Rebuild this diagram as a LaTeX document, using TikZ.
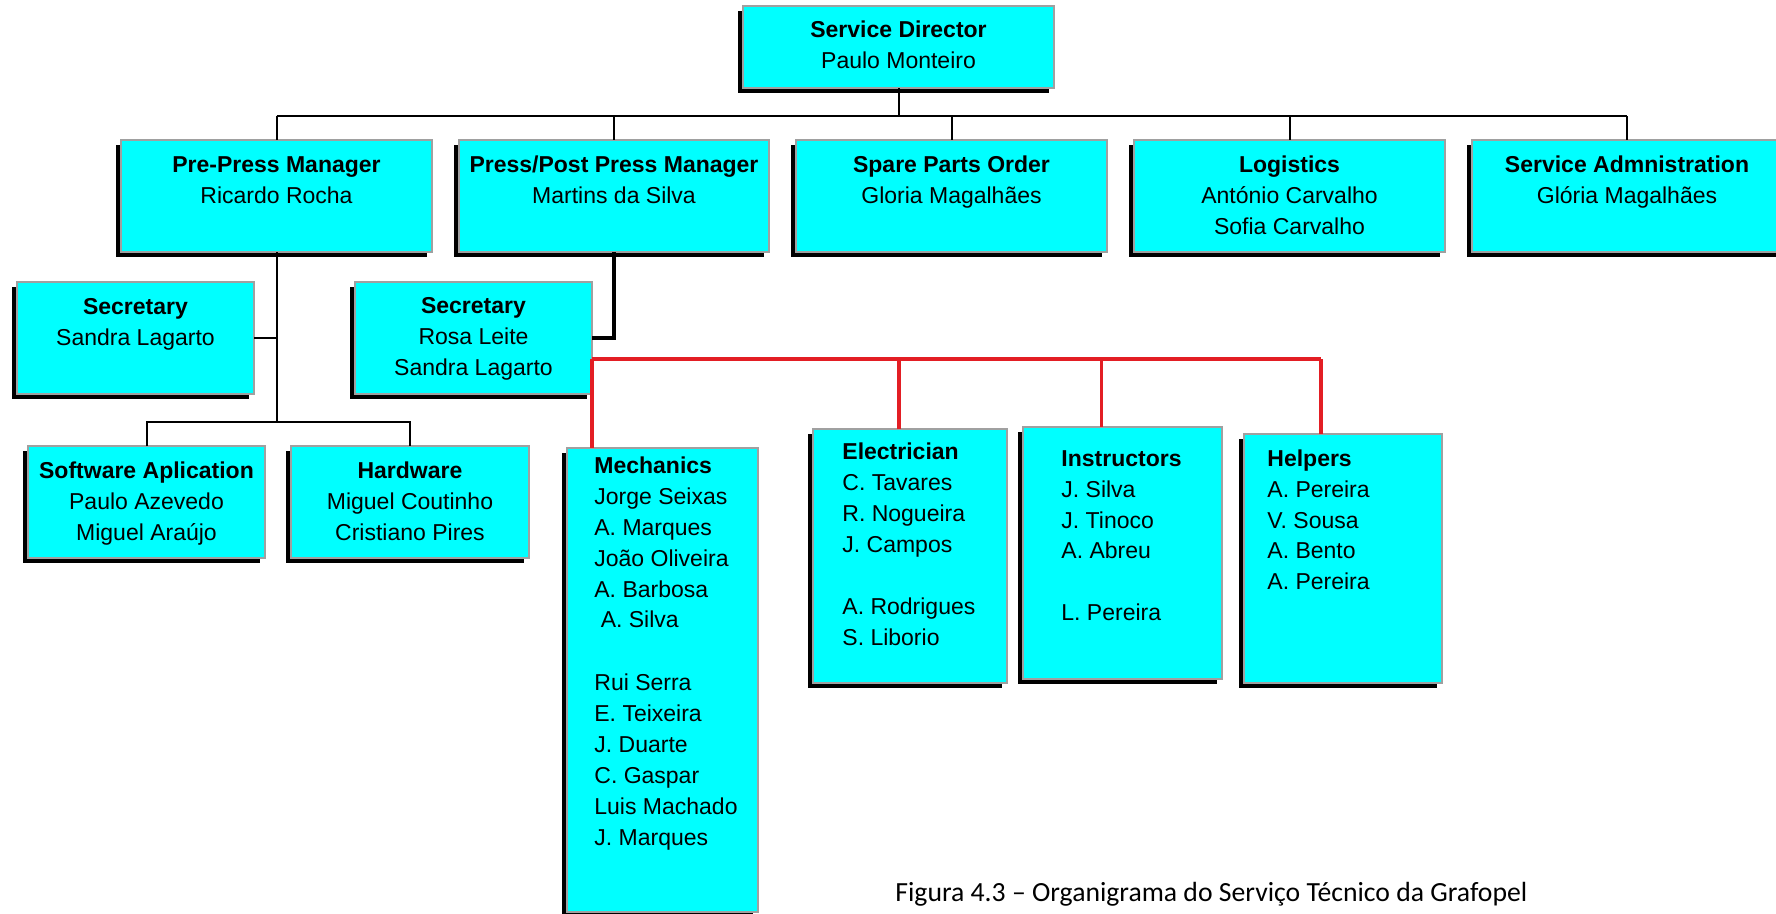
\documentclass[tikz,border=0pt]{standalone}
\usepackage{fontspec}
\setmainfont{Liberation Sans}
\newfontfamily\capfont{Carlito}
\usetikzlibrary{fit,shadows}
\definecolor{boxcyan}{RGB}{0,255,255}
\definecolor{boxgray}{RGB}{160,160,160}
\definecolor{linered}{RGB}{227,30,36}
\newcommand\ctab[1]{\begin{tabular}[t]{@{}c@{}}#1\end{tabular}}
\newcommand\ltab[1]{\begin{tabular}[t]{@{}l@{}}#1\end{tabular}}
\begin{document}
\begin{tikzpicture}[x=0.5pt,y=-0.5pt,
  orgbox/.style={draw=boxgray, line width=1pt, fill=boxcyan, inner sep=0pt, outer sep=0pt,
    drop shadow={shadow xshift=-2.5pt,shadow yshift=-2.5pt,fill=black,opacity=1}},
  txt/.style={inner sep=0pt, font=\fontsize{11.5pt}{15.5pt}\selectfont},
  conn/.style={line width=1pt},
  thickconn/.style={line width=2pt},
  redconn/.style={draw=linered, line width=1.6pt}]
\useasboundingbox (0,0) rectangle (1776,914);

% boxes
\node[orgbox, fit={(743,6)(1054,88)}] (dir) {};
\node[orgbox, fit={(121,140)(432,252)}] (pre) {};
\node[orgbox, fit={(459,140)(769,252)}] (press) {};
\node[orgbox, fit={(796,140)(1107,252)}] (spare) {};
\node[orgbox, fit={(1134,140)(1445,252)}] (logi) {};
\node[orgbox, fit={(1472,140)(1782,252)}] (sadm) {};
\node[orgbox, fit={(17,282)(254,394)}] (sec1) {};
\node[orgbox, fit={(355,282)(592,394)}] (sec2) {};
\node[orgbox, fit={(28,446)(265,558)}] (soft) {};
\node[orgbox, fit={(291,446)(529,558)}] (hard) {};
\node[orgbox, fit={(567,448)(758,912)}] (mech) {};
\node[orgbox, fit={(813,429)(1007,683)}] (elec) {};
\node[orgbox, fit={(1023,427)(1222,679)}] (inst) {};
\node[orgbox, fit={(1244,434)(1442,683)}] (help) {};

% black connectors
\coordinate (busL) at (276.5,116);
\coordinate (swbus) at (146.5,422);
\draw[conn] (pre.north |- busL) -- (sadm.north |- busL);
\draw[conn] (dir.south) -- (dir.south |- busL);
\foreach \n in {pre,press,spare,logi,sadm} \draw[conn] (\n.north) -- (\n.north |- busL);
\draw[conn] (pre.south) -- (pre.south |- swbus);
\draw[conn] (sec1.east) -- (sec1.east -| pre.south);
\draw[conn] (soft.north) -- (soft.north |- swbus) -- (hard.north |- swbus) -- (hard.north);
\draw[thickconn] (press.south) |- (sec2.east);

% red connectors
\coordinate (rbus) at (592,359);
\coordinate (relec) at ([xshift=-5.5pt]elec.north);
\coordinate (rinst) at ([xshift=-10.5pt]inst.north);
\coordinate (rhelp) at ([xshift=-11pt]help.north);
\draw[redconn] (sec2.east |- rbus) -- (rhelp |- rbus);
\draw[redconn] (sec2.east |- rbus) -- (sec2.east |- mech.north);
\draw[redconn] (relec) -- (relec |- rbus);
\draw[redconn] (rinst) -- (rinst |- rbus);
\draw[redconn] (rhelp) -- (rhelp |- rbus);

% texts
\node[txt, anchor=base] (tdir) at (898.5,38) {\ctab{\textbf{Service Director}\\Paulo Monteiro}};
\node[txt, anchor=base] (tpre) at (276.5,173) {\ctab{\textbf{Pre-Press Manager}\\Ricardo Rocha}};
\node[txt, anchor=base] (tpress) at (614,173) {\ctab{\textbf{Press/Post Press Manager}\\Martins da Silva}};
\node[txt, anchor=base] (tspare) at (951.5,173) {\ctab{\textbf{Spare Parts Order}\\Gloria Magalhães}};
\node[txt, anchor=base] (tlogi) at (1289.5,173) {\ctab{\textbf{Logistics}\\António Carvalho\\Sofia Carvalho}};
\node[txt, anchor=base] (tsadm) at (1627,173) {\ctab{\textbf{Service Admnistration}\\Glória Magalhães}};
\node[txt, anchor=base] (tsec1) at (135.5,315) {\ctab{\textbf{Secretary}\\Sandra Lagarto}};
\node[txt, anchor=base] (tsec2) at (473.5,314) {\ctab{\textbf{Secretary}\\Rosa Leite\\Sandra Lagarto}};
\node[txt, anchor=base] (tsoft) at (146.5,478) {\ctab{\textbf{Software Aplication}\\Paulo Azevedo\\Miguel Araújo}};
\node[txt, anchor=base] (thard) at (410,478) {\ctab{\textbf{Hardware}\\Miguel Coutinho\\Cristiano Pires}};
\node[txt, anchor=base west] (tmech) at (594,473) {\ltab{\textbf{Mechanics}\\Jorge Seixas\\A. Marques\\João Oliveira\\A. Barbosa\\\ A. Silva\\ \\Rui Serra\\E. Teixeira\\J. Duarte\\C. Gaspar\\Luis Machado\\J. Marques}};
\node[txt, anchor=base west] (telec) at (842,459) {\ltab{\textbf{Electrician}\\C. Tavares\\R. Nogueira\\J. Campos\\ \\A. Rodrigues\\S. Liborio}};
\node[txt, anchor=base west] (tinst) at (1061,466) {\ltab{\textbf{Instructors}\\J. Silva\\J. Tinoco\\A. Abreu\\ \\L. Pereira}};
\node[txt, anchor=base west] (thelp) at (1267,466) {\ltab{\textbf{Helpers}\\A. Pereira\\V. Sousa\\A. Bento\\A. Pereira}};

% caption
\node[anchor=base west, inner sep=0pt, font=\capfont\fontsize{13.85pt}{16pt}\selectfont] (cap) at (895,901) {Figura 4.3 – Organigrama do Serviço Técnico da Grafopel};
\end{tikzpicture}
\end{document}
